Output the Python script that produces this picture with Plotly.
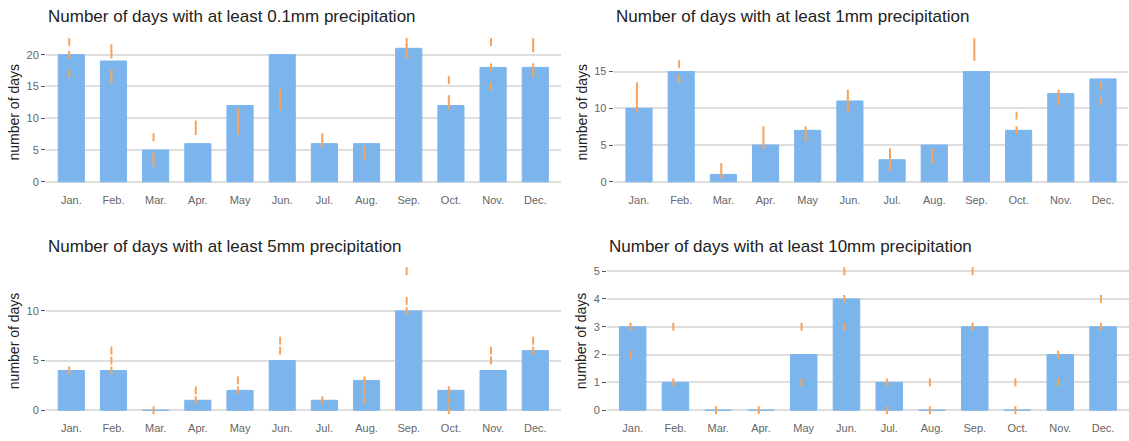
import plotly.graph_objects as go

months = ["Jan.", "Feb.", "Mar.", "Apr.", "May", "Jun.", "Jul.", "Aug.", "Sep.", "Oct.", "Nov.", "Dec."]

titles = [
    "Number of days with at least 0.1mm precipitation",
    "Number of days with at least 1mm precipitation",
    "Number of days with at least 5mm precipitation",
    "Number of days with at least 10mm precipitation",
]

bars_01mm = [20, 19, 5, 6, 12, 20, 6, 6, 21, 12, 18, 18]
bars_1mm = [10, 15, 1, 5, 7, 11, 3, 5, 15, 7, 12, 14]
bars_5mm = [4, 4, 0, 1, 2, 5, 1, 3, 10, 2, 4, 6]
bars_10mm = [3, 1, 0, 0, 2, 4, 1, 0, 3, 0, 2, 3]

points_01mm = [[17, 20, 22], [16, 17, 20, 21], [3, 4, 7], [8, 9], [8, 9, 10, 11], [12, 13, 14],
               [6, 7], [4, 5], [20, 21, 22], [12, 13, 16], [15, 18, 22], [17, 18, 21, 22]]
points_1mm = [[10, 11, 12, 13], [14, 16], [1, 2], [5, 6, 7], [6, 7], [10, 11, 12],
              [2, 3, 4], [3, 4], [17, 18, 19], [7, 9], [11, 12], [11, 13]]
points_5mm = [[4], [4, 5, 6], [0], [1, 2], [2, 3], [6, 7],
              [1], [1, 2, 3], [10, 11, 14], [0, 1, 2], [5, 6], [6, 7]]
points_10mm = [[2, 3], [1, 3], [0], [0], [1, 3], [3, 4, 5],
               [0, 1], [0, 1], [3, 5], [0, 1], [1, 2], [3, 4]]

y_title = "number of days"

BAR = "#7cb5ec"
ORANGE = "#f7a35c"
GRID = "#dedede"
FONT = "Liberation Sans, Arial, sans-serif"

W, H = 1129, 441

panels = [
    dict(bars=bars_01mm, pts=points_01mm, dtick=5, yr=[-0.78, 22.66], xpx=(46, 560.6), ypx=(36, 186)),
    dict(bars=bars_1mm, pts=points_1mm, dtick=5, yr=[-0.68, 19.6], xpx=(613.7, 1128.3), ypx=(36, 186)),
    dict(bars=bars_5mm, pts=points_5mm, dtick=5, yr=[-0.5, 14.45], xpx=(46, 560.6), ypx=(266.5, 416)),
    dict(bars=bars_10mm, pts=points_10mm, dtick=1, yr=[-0.18, 5.16], xpx=(607, 1128.7), ypx=(266.5, 416)),
]

fig = go.Figure()
layout = {}
annotations = []
XR = [-0.6, 11.6]
SHIFT = 0.05

for i, p in enumerate(panels):
    n = i + 1
    xn = "x" if n == 1 else f"x{n}"
    yn = "y" if n == 1 else f"y{n}"
    xo = f"x{n + 4}"
    fig.add_trace(go.Bar(
        x=months, y=p["bars"], xaxis=xn, yaxis=yn,
        marker=dict(color=BAR, line=dict(color=BAR, width=1)),
        hoverinfo="x+y",
    ))
    px, py = [], []
    for m, vals in zip(months, p["pts"]):
        for v in vals:
            px.append(m)
            py.append(v)
    fig.add_trace(go.Scatter(
        x=px, y=py, mode="markers", xaxis=xo, yaxis=yn, cliponaxis=False,
        marker=dict(symbol="line-ns", size=5.7, color=ORANGE,
                    line=dict(color=ORANGE, width=2)),
    ))
    xd = [p["xpx"][0] / W, p["xpx"][1] / W]
    yd = [1 - p["ypx"][1] / H, 1 - p["ypx"][0] / H]
    layout[f"xaxis{'' if n == 1 else n}"] = dict(
        domain=xd, anchor=yn, type="category", categoryorder="array", categoryarray=months,
        range=XR, showgrid=False, showline=False, zeroline=False, ticks="",
        ticklabelstandoff=5,
        tickfont=dict(size=11, color="#666666", family=FONT), fixedrange=True,
    )
    layout[f"xaxis{n + 4}"] = dict(
        overlaying=xn, anchor=yn, type="category", categoryorder="array", categoryarray=months,
        range=[XR[0] + SHIFT, XR[1] + SHIFT], visible=False, showgrid=False,
    )
    layout[f"yaxis{'' if n == 1 else n}"] = dict(
        domain=yd, anchor=xn, range=p["yr"], dtick=p["dtick"], tick0=0,
        showgrid=True, gridcolor=GRID, gridwidth=1.5, zeroline=False, showline=False,
        ticks="outside", ticklen=4, tickwidth=1, tickcolor="#555555",
        tickfont=dict(size=11, color="#666666", family=FONT),
        title=dict(text=y_title, standoff=3, font=dict(size=14, color="#222222", family=FONT)),
    )
    annotations.append(dict(
        text=titles[i], xref=f"{xn} domain", yref=f"{yn} domain", x=0, y=1,
        xanchor="left", yanchor="middle", yshift=21 if n <= 2 else 20.5, showarrow=False,
        font=dict(size=17, color="#222222", family=FONT),
    ))

fig.update_layout(
    **layout,
    annotations=annotations,
    width=W, height=H,
    margin=dict(l=0, r=0, t=0, b=0),
    paper_bgcolor="white", plot_bgcolor="white",
    showlegend=False, bargap=0.38,
    font=dict(family=FONT),
)

fig.write_html(
    "out.html",
    config={"displayModeBar": False},
    post_script="document.body.style.margin='0';document.body.style.overflow='hidden';",
)
